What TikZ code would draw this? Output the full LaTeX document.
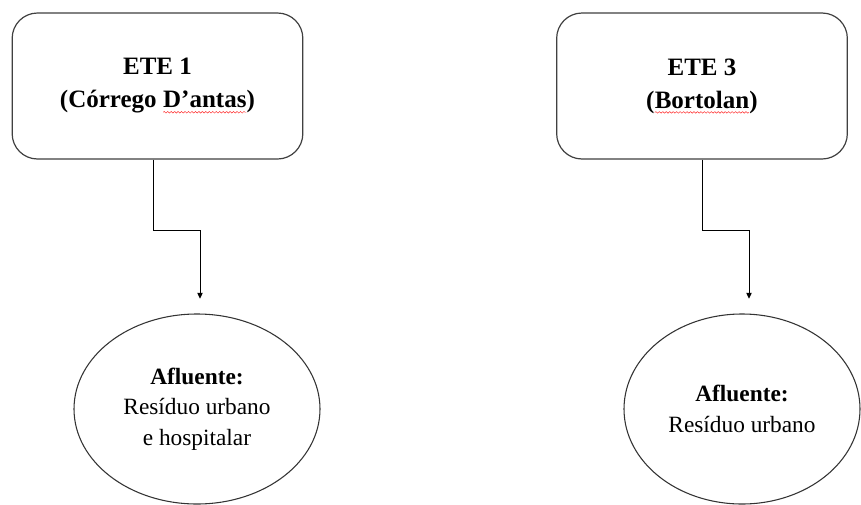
\documentclass[tikz,border=0pt]{standalone}
\usepackage{fontspec}
\setmainfont{Liberation Serif}
\usepackage{tikz}
\usetikzlibrary{arrows.meta,shapes.geometric,decorations.pathmorphing}

% red wavy spell-check mark under a word
\newcommand\spellerr[1]{\tikz[baseline=(w.base)]{\node[draw=none,fill=none,rectangle,inner sep=0pt,outer sep=0pt,
    minimum width=0pt,minimum height=0pt] (w) {#1};
  \draw[red!85,line width=0.35pt,rounded corners=0pt,decorate,decoration={snake,amplitude=0.6pt,segment length=2.6pt}]
    ([yshift=-3.2pt]w.base west) -- ([yshift=-3.2pt]w.base east);}}

\begin{document}
\begin{tikzpicture}[x=0.75pt,y=-0.75pt,
  etebox/.style={draw=black!75,line width=0.9pt,rounded corners=19pt,minimum width=218pt,minimum height=109.5pt,
    align=center,font={\fontsize{18.75}{24.75}\selectfont\bfseries}},
  afbox/.style={draw=black!80,line width=0.8pt,ellipse,inner sep=0pt,minimum height=142.5pt,
    align=center,font={\fontsize{17.5}{23}\selectfont}},
  link/.style={draw=black,line width=0.75pt,-{Triangle[width=4pt,length=4.5pt]}}]
  \fill[white] (0,0) rectangle (861,504);
  \useasboundingbox (0,0) rectangle (861,504);
  \foreach \n/\bx/\ex/\ew/\sx/\ax/\head/\body in {
     1/157.5/197/184.5/-4.5/3/{ETE 1\\(Córrego \spellerr{D’antas})}/{\textbf{Afluente:}\\Resíduo urbano\\e hospitalar},
     3/702/742/177/0/7/{ETE 3\\(\spellerr{Bortolan})}/{\textbf{Afluente:}\\Resíduo urbano}}
  { \node[etebox] (ete\n) at (\bx,86) {\head};
    \node[afbox,minimum width=\ew pt] (af\n) at (\ex,409) {\body};
    \draw[link] ([xshift=\sx*0.75pt]ete\n.south) -- ++(0,71) -| ([xshift=\ax*0.75pt,yshift=11pt]af\n.north); }
\end{tikzpicture}
\end{document}
